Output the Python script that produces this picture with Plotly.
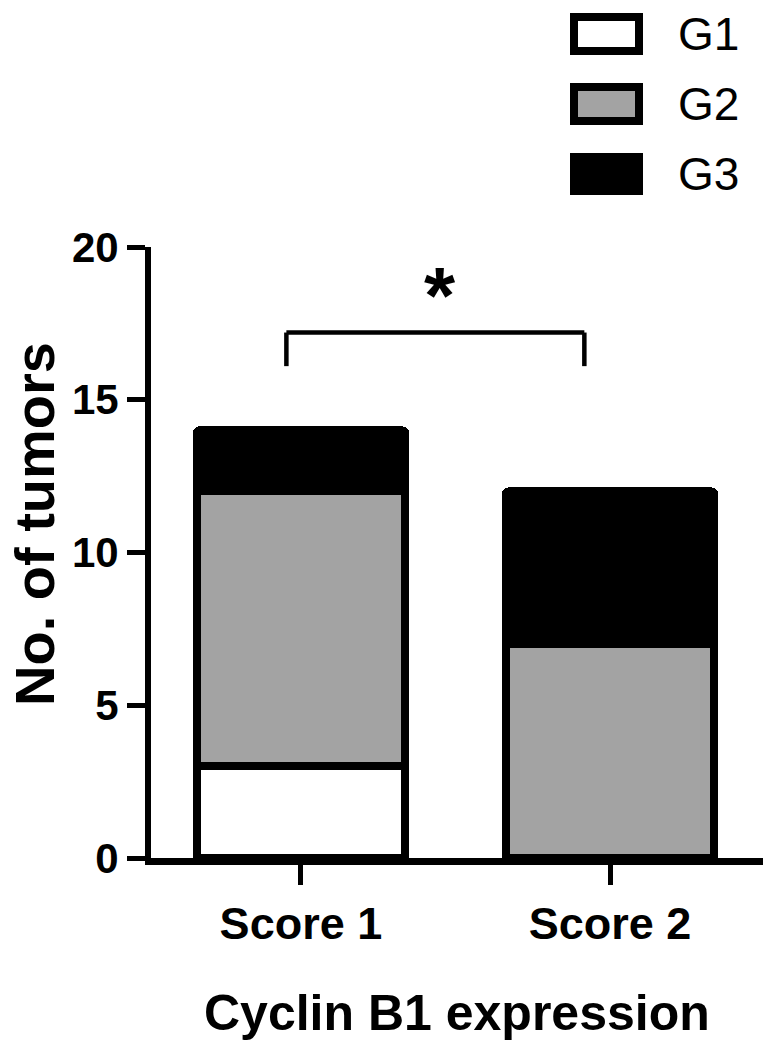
"""Stacked bar chart: tumour grade by Cyclin B1 expression score."""

import plotly.graph_objects as go

# data
categories = ["Score 1", "Score 2"]
grades = ["G1", "G2", "G3"]
g1_counts = [3, 0]
g2_counts = [9, 7]
g3_counts = [2, 5]
y_ticks = [0, 5, 10, 15, 20]

FILLS = {"G1": "#ffffff", "G2": "#a3a3a3", "G3": "#000000"}
FONT = "Liberation Sans, Arial, sans-serif"

W, H = 763, 1050
L, R, T, B = 151, 0, 247, 192
PW, PH = W - L - R, H - T - B


def px_x(px):
    return (px - L) / PW


def px_y(py):
    return (H - B - py) / PH


fig = go.Figure()
for name, vals in zip(grades, [g1_counts, g2_counts, g3_counts]):
    fig.add_trace(go.Bar(
        x=categories, y=vals, name=name,
        marker=dict(color=FILLS[name], cornerradius=3,
                    line=dict(color="black", width=[8 if v else 0 for v in vals])),
    ))

# significance bracket + asterisk
bx0, bx1, by_top, by_bot = -0.047, 0.917, 17.2, 16.1
for x0, y0, x1, y1 in [(bx0, by_bot, bx0, by_top), (bx0, by_top, bx1, by_top), (bx1, by_top, bx1, by_bot)]:
    fig.add_shape(type="line", xref="x", yref="y", x0=x0, y0=y0, x1=x1, y1=y1,
                  line=dict(color="black", width=4.5))
fig.add_annotation(x=0.45, y=18.4, xref="x", yref="y", text="<b>*</b>", showarrow=False,
                   font=dict(size=80, color="black", family=FONT), yanchor="middle")

# legend drawn by hand (big outlined swatches)
for i, name in enumerate(grades):
    top = 17 + i * 70
    fig.add_shape(type="rect", xref="paper", yref="paper",
                  x0=px_x(574), x1=px_x(639), y0=px_y(top), y1=px_y(top + 34),
                  fillcolor=FILLS[name], line=dict(color="black", width=8))
    fig.add_annotation(x=px_x(676), y=px_y(top + 17), xref="paper", yref="paper",
                       text=name, showarrow=False, xanchor="left", yanchor="middle",
                       font=dict(size=46, color="black", family=FONT))

# axis titles
fig.add_annotation(x=px_x(34), y=px_y(524), xref="paper", yref="paper",
                   text="<b>No. of tumors</b>", textangle=-90, showarrow=False,
                   xanchor="center", yanchor="middle",
                   font=dict(size=56, color="black", family=FONT))
fig.add_annotation(x=px_x(457), y=px_y(1013), xref="paper", yref="paper",
                   text="<b>Cyclin B1 expression</b>", showarrow=False,
                   xanchor="center", yanchor="middle",
                   font=dict(size=50, color="black", family=FONT))

fig.update_layout(
    width=W, height=H, barmode="stack", bargap=0.325, showlegend=False,
    paper_bgcolor="white", plot_bgcolor="white",
    margin=dict(l=L, r=R, t=T, b=B),
    font=dict(family=FONT, color="black"),
)
fig.update_xaxes(
    range=[-0.485, 1.495], showline=True, linecolor="black", linewidth=7,
    ticks="outside", ticklen=20, tickwidth=5, tickcolor="black",
    tickfont=dict(size=45, family=FONT, weight="bold"), showgrid=False, zeroline=False,
)
fig.update_yaxes(
    range=[0, 20], tickvals=y_ticks, showline=True, linecolor="black", linewidth=6,
    ticks="outside", ticklen=18, tickwidth=5, tickcolor="black",
    tickfont=dict(size=42, family=FONT, weight="bold"), showgrid=False, zeroline=False,
)

# drop the browser's default 8px body margin so the figure sits at the page origin
fig.write_html("out.html", config={"displayModeBar": False},
               post_script="document.body.style.margin='0';")
